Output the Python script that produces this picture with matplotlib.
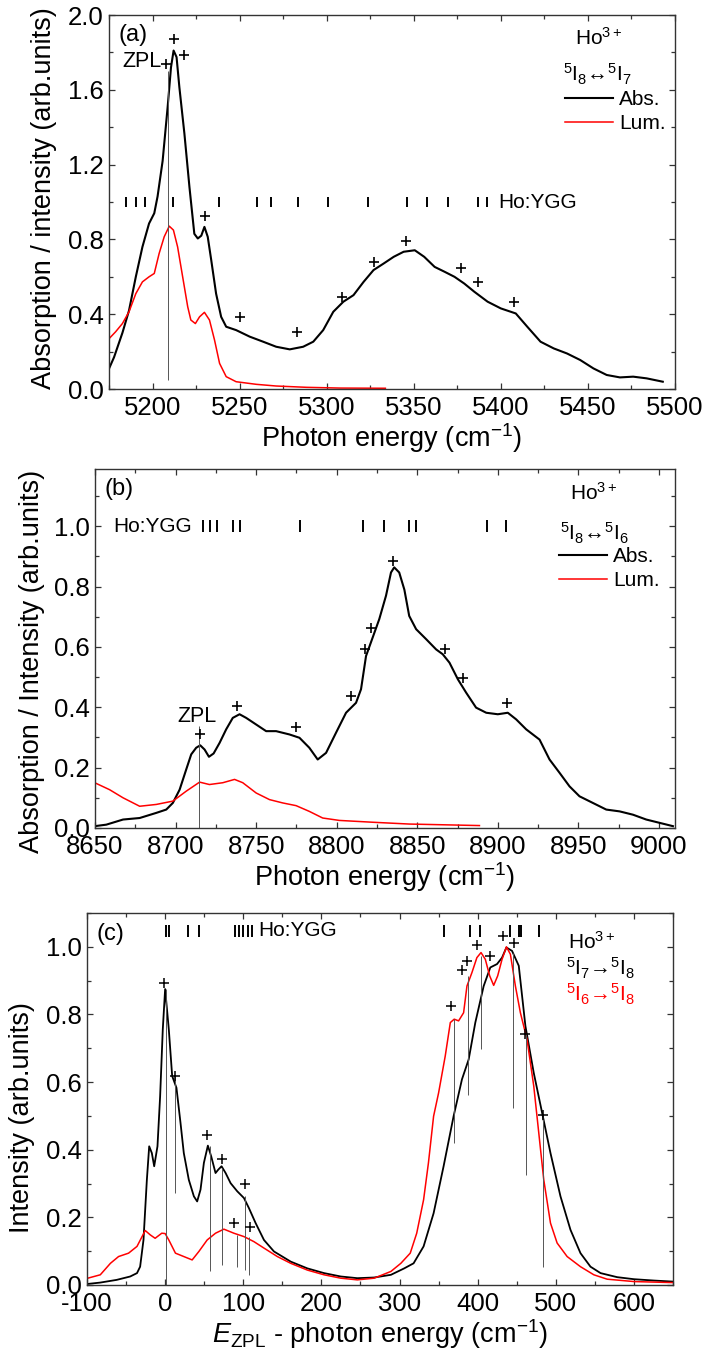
import numpy as np
import matplotlib.pyplot as plt
from matplotlib.ticker import MultipleLocator

plt.rcParams['font.family'] = ['Liberation Sans', 'DejaVu Sans']
plt.rcParams['mathtext.fontset'] = 'custom'
plt.rcParams['mathtext.rm'] = 'Liberation Sans'
plt.rcParams['mathtext.it'] = 'Liberation Sans:italic'
plt.rcParams['axes.unicode_minus'] = False
plt.rcParams['font.size'] = 15

# ---------------- panel (a): 5I8 <-> 5I7 ----------------
a_abs_x = [5174.6, 5177.9, 5182.7, 5186.5, 5190.4, 5194.2, 5198, 5201, 5202.9, 5205.8,
           5208.7, 5210.6, 5212.1, 5213.8, 5215.4, 5218.3, 5221.2, 5224, 5226, 5228,
           5229.8, 5231.7, 5233.7, 5236.5, 5239.4, 5242.3, 5248, 5255.8, 5263.5, 5271,
           5278.8, 5286.5, 5292.3, 5298, 5303.8, 5309.6, 5315.4, 5321.2, 5326.9, 5332.7,
           5338.5, 5344.2, 5350.6, 5356, 5362, 5367.7, 5373.4, 5379, 5384.8, 5392.4,
           5400, 5408.6, 5415.2, 5422.8, 5430.4, 5438, 5445.6, 5453.2, 5460.8, 5468.4,
           5476, 5483.7, 5493]
a_abs_y = [0.10, 0.17, 0.30, 0.42, 0.60, 0.76, 0.885, 0.94, 1.03, 1.22,
           1.51, 1.72, 1.81, 1.775, 1.615, 1.366, 1.08, 0.83, 0.805, 0.82,
           0.867, 0.814, 0.69, 0.51, 0.386, 0.333, 0.315, 0.28, 0.253, 0.226,
           0.212, 0.226, 0.253, 0.315, 0.413, 0.467, 0.502, 0.573, 0.636, 0.671,
           0.707, 0.734, 0.742, 0.707, 0.653, 0.627, 0.60, 0.564, 0.52, 0.467,
           0.431, 0.404, 0.333, 0.253, 0.217, 0.19, 0.155, 0.11, 0.075, 0.062,
           0.066, 0.057, 0.039]
a_lum_x = [5174.6, 5178.8, 5182.7, 5186.5, 5190.4, 5194.2, 5198, 5201, 5203.8, 5206.7,
           5209.6, 5212, 5214.4, 5217.3, 5220.2, 5222, 5224.6, 5227, 5229.8, 5232.7,
           5235.6, 5238.5, 5242.3, 5248, 5259.6, 5271, 5288.5, 5307.7, 5333.7]
a_lum_y = [0.265, 0.306, 0.35, 0.413, 0.51, 0.573, 0.60, 0.618, 0.725, 0.814,
           0.871, 0.85, 0.76, 0.60, 0.44, 0.369, 0.35, 0.386, 0.41, 0.369,
           0.262, 0.137, 0.066, 0.039, 0.025, 0.016, 0.009, 0.005, 0.004]
a_plus_x = [5212.1, 5217.9, 5207.7, 5230.2, 5250.4, 5282.7, 5308.7, 5327.3, 5345.7,
            5377.3, 5387, 5407.8]
a_plus_y = [1.873, 1.784, 1.74, 0.924, 0.386, 0.303, 0.493, 0.68, 0.79,
            0.647, 0.572, 0.465]
a_ygg = [5184.7, 5190.5, 5195.5, 5211.8, 5238.2, 5260.2, 5268.3, 5283.3, 5301, 5324,
         5346.2, 5357.8, 5369.9, 5387.1, 5392]
a_zpl = 5208.7

# ---------------- panel (b): 5I8 <-> 5I6 ----------------
b_abs_x = [8649.8, 8657, 8667.4, 8677.7, 8688, 8694.2, 8698.3, 8702.5, 8706.6, 8709.7,
           8712.8, 8715.3, 8718, 8720.7, 8723.6, 8727.3, 8731.4, 8735.5, 8739.7, 8743.8,
           8750, 8756.2, 8762.4, 8770.7, 8776.9, 8783, 8788.2, 8793.4, 8799.6, 8805.8,
           8812, 8815.1, 8818.2, 8822.3, 8826.4, 8830.6, 8833.7, 8835.7, 8838.8, 8842,
           8845, 8849.3, 8855.5, 8861.7, 8865.8, 8870, 8875.2, 8880.3, 8886.5, 8892.8,
           8900, 8906.2, 8911.4, 8917.6, 8925.9, 8932.1, 8938.3, 8944.5, 8950.7, 8959,
           8967.3, 8975.6, 8983.9, 8992.1, 9000.4, 9008.7]
b_abs_y = [0.006, 0.011, 0.028, 0.033, 0.05, 0.061, 0.083, 0.127, 0.194, 0.244,
           0.266, 0.274, 0.26, 0.236, 0.247, 0.282, 0.327, 0.365, 0.377, 0.365,
           0.343, 0.321, 0.321, 0.31, 0.299, 0.266, 0.227, 0.249, 0.316, 0.382,
           0.415, 0.46, 0.57, 0.631, 0.692, 0.77, 0.847, 0.864, 0.847, 0.79,
           0.703, 0.659, 0.626, 0.592, 0.576, 0.548, 0.493, 0.449, 0.399, 0.382,
           0.377, 0.382, 0.36, 0.327, 0.293, 0.227, 0.183, 0.138, 0.105, 0.083,
           0.061, 0.055, 0.044, 0.028, 0.017, 0.006]
b_lum_x = [8649.8, 8659, 8667.4, 8677.7, 8688, 8698.3, 8706.6, 8714.9, 8721, 8729.3,
           8736.6, 8741.7, 8750, 8758.3, 8766.5, 8774.8, 8783, 8791.3, 8801.7, 8822.3,
           8845, 8888.6]
b_lum_y = [0.15, 0.127, 0.1, 0.072, 0.078, 0.089, 0.122, 0.152, 0.144, 0.15,
           0.161, 0.15, 0.116, 0.094, 0.083, 0.074, 0.055, 0.033, 0.025, 0.019,
           0.013, 0.008]
b_plus_x = [8714.9, 8738.2, 8774.8, 8808.9, 8817.4, 8821.3, 8834.7, 8867.5, 8878.3, 8905.6]
b_plus_y = [0.31, 0.406, 0.336, 0.437, 0.592, 0.662, 0.886, 0.592, 0.498, 0.415]
b_ygg = [8717, 8721.5, 8725.6, 8735.5, 8739.7, 8777.5, 8816.5, 8829.5, 8845, 8849,
         8893, 8905]
b_zpl = 8714.5

# ---------------- panel (c): luminescence vs E_ZPL ----------------
c_17_x = [-99, -83, -62, -44.7, -36, -32, -27.7, -23.4, -20.4, -17, -14, -9.8, -6.4, -3,
          0, 4.7, 9, 14.5, 19.7, 23.9, 30.3, 36.8, 41, 45.3, 49.6, 54.7, 59, 64.5, 68,
          72.2, 77.4, 83.8, 92.3, 100.9, 107.3, 115.8, 126.5, 139.3, 160.7, 182, 203.4,
          224.8, 246, 267.5, 289, 306, 318, 330.8, 343.6, 356.4, 369.2, 379.9, 388.5,
          397, 407.7, 416.2, 424.8, 431.2, 436.8, 444, 452.6, 461.1, 471.8, 482.5, 493.2,
          506, 518.8, 531.6, 544.4, 557.3, 578.6, 600, 625.6, 649]
c_17_y = [0.003, 0.007, 0.015, 0.025, 0.035, 0.054, 0.133, 0.31, 0.41, 0.39, 0.351, 0.41,
          0.558, 0.756, 0.875, 0.756, 0.618, 0.583, 0.479, 0.39, 0.311, 0.262, 0.247,
          0.282, 0.361, 0.412, 0.38, 0.331, 0.341, 0.351, 0.331, 0.301, 0.277, 0.257,
          0.227, 0.183, 0.133, 0.099, 0.069, 0.049, 0.035, 0.025, 0.02, 0.022, 0.03,
          0.049, 0.064, 0.114, 0.212, 0.351, 0.499, 0.608, 0.667, 0.776, 0.884, 0.939,
          0.949, 0.968, 0.998, 0.988, 0.944, 0.766, 0.627, 0.509, 0.39, 0.262, 0.163,
          0.094, 0.054, 0.035, 0.023, 0.017, 0.013, 0.01]
c_16_x = [-99, -83, -70, -59.6, -46.8, -36, -25.5, -19, -12.8, -4.3, 0, 4.7, 13.2, 23.9,
          34.6, 43.2, 53.8, 64.5, 75.2, 88, 100.9, 113.7, 126.5, 143.6, 160.7, 182, 203.4,
          224.8, 246, 267.5, 289, 301.7, 313.7, 322, 330.8, 337, 343.6, 350, 358.5, 365,
          370, 375.6, 382, 386.3, 392.7, 399, 404.3, 409.8, 415.4, 420.5, 425.6, 431.2,
          436.8, 441.9, 448.3, 454.7, 463.2, 471.8, 478.2, 484.6, 493.2, 501.7, 514.5,
          531.6, 548.7, 565.8, 600, 649]
c_16_y = [0.02, 0.03, 0.064, 0.084, 0.094, 0.114, 0.161, 0.148, 0.138, 0.153, 0.152,
          0.133, 0.094, 0.084, 0.074, 0.099, 0.133, 0.153, 0.165, 0.153, 0.143, 0.128,
          0.109, 0.084, 0.064, 0.044, 0.03, 0.02, 0.015, 0.02, 0.04, 0.064, 0.094, 0.153,
          0.252, 0.361, 0.499, 0.568, 0.677, 0.776, 0.786, 0.781, 0.805, 0.884, 0.924,
          0.968, 0.983, 0.963, 0.914, 0.886, 0.914, 0.963, 1.0, 0.978, 0.884, 0.805,
          0.726, 0.588, 0.45, 0.311, 0.183, 0.124, 0.084, 0.054, 0.03, 0.017, 0.01, 0.007]
c_plus_x = [-1.3, 13.2, 53, 72.2, 101.7, 88, 108.5, 366.2, 380.3, 386.3, 399, 416.2,
            432.5, 446.2, 460.3, 483.3]
c_plus_y = [0.894, 0.618, 0.442, 0.371, 0.298, 0.183, 0.17, 0.825, 0.931, 0.958, 1.005,
            0.973, 1.033, 1.011, 0.741, 0.504]
c_vl_x = [0.85, 12.4, 57.3, 73, 91.5, 102, 107.7, 369.2, 387.6, 403.8, 445.3, 461.5, 483.3]
c_vl_top = [0.875, 0.618, 0.41, 0.346, 0.148, 0.262, 0.143, 0.786, 0.914, 0.973, 0.983,
            0.741, 0.499]
c_vl_bot = [0.0, 0.272, 0.04, 0.059, 0.054, 0.044, 0.03, 0.42, 0.563, 0.697, 0.524,
            0.326, 0.054]
c_ygg = [1.7, 5.1, 29.5, 43.2, 88.9, 94.4, 100, 106, 111.5, 356.6, 390.4, 402.8, 441.6,
         453, 456, 478.4]

spine_col = '#333333'
tick_fs = 18.5
label_fs = 19.5
fig = plt.figure(figsize=(7.05, 13.54), dpi=100)
axa = fig.add_axes([0.1546, 0.7127, 0.8028, 0.2762])
axb = fig.add_axes([0.1348, 0.3885, 0.8227, 0.2651])
axc = fig.add_axes([0.1234, 0.0510, 0.8312, 0.2747])


def style(ax, xmaj, xmin, ymaj, ymin):
    ax.xaxis.set_major_locator(MultipleLocator(xmaj))
    ax.xaxis.set_minor_locator(MultipleLocator(xmin))
    ax.yaxis.set_major_locator(MultipleLocator(ymaj))
    ax.yaxis.set_minor_locator(MultipleLocator(ymin))
    ax.tick_params(which='both', direction='in', top=True, right=True,
                   colors=spine_col, labelcolor='black', labelsize=tick_fs)
    ax.tick_params(axis='y', pad=4)
    ax.tick_params(axis='x', pad=5)
    ax.tick_params(which='major', length=4.5, width=0.9)
    ax.tick_params(which='minor', length=3, width=0.9)
    for s in ax.spines.values():
        s.set_color(spine_col)
        s.set_linewidth(1.0)


# panel (a)
ax = axa
la, = ax.plot(a_abs_x, a_abs_y, color='black', lw=1.5, label='Abs.')
lb, = ax.plot(a_lum_x, a_lum_y, color='red', lw=1.1, label='Lum.')
ax.vlines(a_zpl, 0.05, 1.70, color='#555555', lw=0.7)
ax.scatter(a_plus_x, a_plus_y, marker='+', s=60, color='black', lw=1.2, zorder=5)
ax.vlines(a_ygg, 0.972, 1.028, color='black', lw=1.4)
ax.text(5398.7, 1.0, 'Ho:YGG', va='center', ha='left', fontsize=15)
ax.text(5182.5, 1.75, 'ZPL', va='center', ha='left', fontsize=15.5)
ax.text(0.016, 0.975, '(a)', transform=ax.transAxes, va='top', ha='left', fontsize=17)
ax.text(0.823, 0.94, 'Ho$^{3+}$', transform=ax.transAxes, va='center', ha='left', fontsize=15)
ax.text(0.802, 0.84, '$^5$I$_8$\u2194$^5$I$_7$', transform=ax.transAxes, va='center',
        ha='left', fontsize=15)
ax.legend(handles=[la, lb], loc='upper left', bbox_to_anchor=(0.805, 0.80), frameon=False,
          borderpad=0, borderaxespad=0, handlelength=2.3, handletextpad=0.3,
          labelspacing=0.25, fontsize=15)
ax.set_xlim(5175, 5500)
ax.set_ylim(0, 2.0)
style(ax, 50, 25, 0.4, 0.2)
ax.yaxis.set_major_formatter(lambda v, p: f'{v:.1f}')
ax.set_xlabel('Photon energy (cm$^{-1}$)', fontsize=label_fs, labelpad=1)
ax.set_ylabel('Absorption / intensity (arb.units)', fontsize=label_fs)
ax.yaxis.set_label_coords(-0.092, 0.51)

# panel (b)
ax = axb
la, = ax.plot(b_abs_x, b_abs_y, color='black', lw=1.5, label='Abs.')
lb, = ax.plot(b_lum_x, b_lum_y, color='red', lw=1.1, label='Lum.')
ax.vlines(b_zpl, 0.0, 0.338, color='#555555', lw=0.7)
ax.scatter(b_plus_x, b_plus_y, marker='+', s=60, color='black', lw=1.2, zorder=5)
ax.vlines(b_ygg, 0.98, 1.02, color='black', lw=1.4)
ax.text(8661, 1.0, 'Ho:YGG', va='center', ha='left', fontsize=15)
ax.text(8713, 0.37, 'ZPL', va='center', ha='center', fontsize=15.5)
ax.text(0.017, 0.975, '(b)', transform=ax.transAxes, va='top', ha='left', fontsize=17)
ax.text(0.819, 0.933, 'Ho$^{3+}$', transform=ax.transAxes, va='center', ha='left', fontsize=15)
ax.text(0.802, 0.822, '$^5$I$_8$\u2194$^5$I$_6$', transform=ax.transAxes, va='center',
        ha='left', fontsize=15)
ax.legend(handles=[la, lb], loc='upper left', bbox_to_anchor=(0.800, 0.783), frameon=False,
          borderpad=0, borderaxespad=0, handlelength=2.3, handletextpad=0.3,
          labelspacing=0.25, fontsize=15)
ax.set_xlim(8650, 9010)
ax.set_ylim(0, 1.19)
style(ax, 50, 25, 0.2, 0.1)
ax.yaxis.set_major_formatter(lambda v, p: f'{v:.1f}')
ax.set_xlabel('Photon energy (cm$^{-1}$)', fontsize=label_fs, labelpad=1)
ax.set_ylabel('Absorption / Intensity (arb.units)', fontsize=label_fs)
ax.yaxis.set_label_coords(-0.086, 0.465)

# panel (c)
ax = axc
ax.plot(c_17_x, c_17_y, color='black', lw=1.3)
ax.plot(c_16_x, c_16_y, color='red', lw=1.1)
ax.vlines(c_vl_x, c_vl_bot, c_vl_top, color='#555555', lw=0.7)
ax.scatter(c_plus_x, c_plus_y, marker='+', s=50, color='black', lw=1.1, zorder=5)
ax.vlines(c_ygg, 1.03, 1.065, color='black', lw=1.4)
ax.text(118.8, 1.047, 'Ho:YGG', va='center', ha='left', fontsize=15)
ax.text(0.017, 0.972, '(c)', transform=ax.transAxes, va='top', ha='left', fontsize=17)
ax.text(0.821, 0.922, 'Ho$^{3+}$', transform=ax.transAxes, va='center', ha='left', fontsize=15)
ax.text(0.818, 0.852, '$^5$I$_7$\u2192$^5$I$_8$', transform=ax.transAxes, va='center',
        ha='left', fontsize=15)
ax.text(0.818, 0.780, '$^5$I$_6$\u2192$^5$I$_8$', transform=ax.transAxes, va='center',
        ha='left', fontsize=15, color='red')
ax.set_xlim(-100, 650)
ax.set_ylim(0, 1.10)
style(ax, 100, 50, 0.2, 0.1)
ax.yaxis.set_major_formatter(lambda v, p: f'{v:.1f}')
ax.set_xlabel(r'$E_{\mathrm{ZPL}}$ - photon energy (cm$^{-1}$)', fontsize=label_fs, labelpad=1)
ax.set_ylabel('Intensity (arb.units)', fontsize=label_fs)
ax.yaxis.set_label_coords(-0.089, 0.45)

fig.savefig('out.png', dpi=100)
